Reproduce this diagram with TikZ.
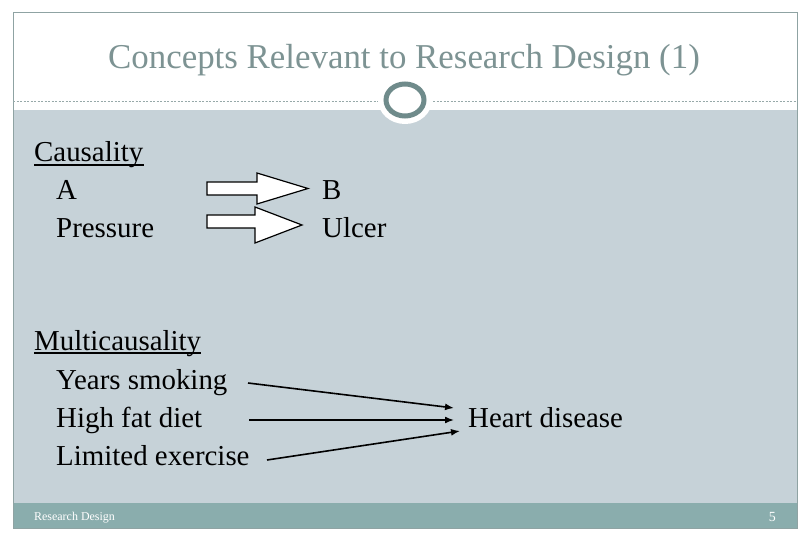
\documentclass[tikz,border=0pt]{standalone}
\usepackage{fontspec}
\setmainfont{Liberation Serif}
\usetikzlibrary{arrows.meta}
\definecolor{bodygray}{HTML}{C6D2D8}
\definecolor{footc}{HTML}{8AADAD}
\definecolor{titlec}{HTML}{7D9393}
\definecolor{ringc}{HTML}{6F8B8B}
\definecolor{framec}{HTML}{8FA3A3}
\tikzset{
  txt/.style={anchor=base west,inner sep=0pt,font=\fontsize{29}{32}\selectfont},
  blockarrow/.style={draw=black,fill=white,line width=1.2bp,line join=miter},
  thinarrow/.style={line width=1.6bp,-{Latex[length=9bp,width=7bp]}},
}
\begin{document}
\begin{tikzpicture}[x=1bp,y=-1bp]
\useasboundingbox (0,0) rectangle (810,540);
\fill[white] (0,0) rectangle (810,540);
% body and footer
\fill[bodygray] (13,110) rectangle (797,503);
\fill[footc] (13,503) rectangle (797,528);
\draw[framec,line width=1bp] (13,13) rectangle (797,528);
% dashed line
\draw[titlec!80,line width=0.8bp,dash pattern=on 2bp off 1.5bp] (13,101) -- (797,101);
% circle halo and ring
\fill[white] (405,100) ellipse [x radius=27,y radius=24];
\draw[ringc,line width=5bp] (405,100) ellipse [x radius=19,y radius=16];
% title
\node[inner sep=0pt,anchor=base,text=titlec,font=\fontsize{35}{40}\selectfont] (title) at (404,69) {Concepts Relevant to Research Design (1)};
% causality
\node[txt] (caus) at (34,162) {Causality};
\draw[line width=1.5bp] ([yshift=-3bp]caus.base west) -- ([yshift=-3bp]caus.base east);
\node[txt] (a) at (56,200) {A};
\node[txt] (press) at (56,238) {Pressure};
\node[txt] (b) at (322,200) {B};
\node[txt] (ulcer) at (322,238) {Ulcer};
\draw[blockarrow] (207,182) -- (257,182) -- (257,173) -- (308,188.5) -- (257,204) -- (257,195) -- (207,195) -- cycle;
\draw[blockarrow] (207,215) -- (255,215) -- (255,207) -- (302,225) -- (255,243) -- (255,228) -- (207,228) -- cycle;
% multicausality
\node[txt] (multi) at (34,350) {Multicausality};
\draw[line width=1.5bp] ([yshift=-3bp]multi.base west) -- ([yshift=-3bp]multi.base east);
\node[txt] (years) at (56,389) {Years smoking};
\node[txt] (fat) at (56,427) {High fat diet};
\node[txt] (limited) at (56,465) {Limited exercise};
\node[txt] (heart) at (468,427) {Heart disease};
\coordinate (y0) at (248,383);
\coordinate (y1) at (454,408);
\coordinate (f0) at (249,420);
\coordinate (f1) at (454,420);
\coordinate (l0) at (267,460);
\coordinate (l1) at (460,431);
\draw[thinarrow] (y0) -- (y1);
\draw[thinarrow] (f0) -- (f1);
\draw[thinarrow] (l0) -- (l1);
% footer
\node[anchor=base west,inner sep=0pt,text=white,font=\fontsize{12}{14}\selectfont] (foot) at (34,520) {Research Design};
\node[anchor=base east,inner sep=0pt,text=white,font=\fontsize{14}{16}\selectfont] (pg) at (776,521) {5};
\end{tikzpicture}
\end{document}
